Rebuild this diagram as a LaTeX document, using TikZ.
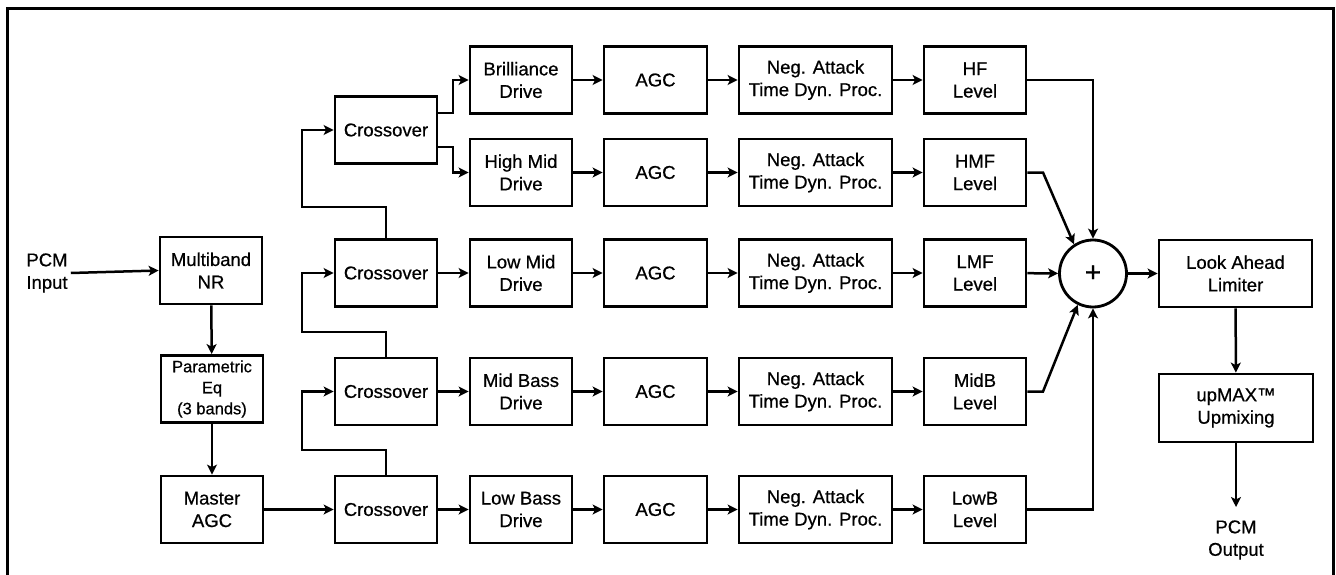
\documentclass[tikz,border=0pt]{standalone}
\usepackage{fontspec}
\setmainfont{Liberation Sans}[BoldFont=Liberation Sans,BoldFeatures={FakeBold=0.6}]
\usetikzlibrary{arrows.meta,calc}
\begin{document}
\begin{tikzpicture}[x=1pt,y=-1pt,
  box/.style={draw,line width=2.8pt,inner sep=0pt,align=center,
    font=\fontsize{18.5}{22.5}\selectfont\bfseries},
  sbox/.style={box,minimum width=102pt,minimum height=67pt},
  wbox/.style={box,minimum width=153pt,minimum height=67pt},
  lbl/.style={align=center,inner sep=3pt,font=\fontsize{18.5}{22.5}\selectfont\bfseries},
  arr/.style={line width=2.5pt,-{Stealth[length=10pt,width=10pt,inset=2.5pt]}},
  ln/.style={line width=2.5pt}]
\useasboundingbox (0,0) rectangle (1336,575);
% frame
\draw[line width=3pt] (7.5,580) -- (7.5,8.5) -- (1333.5,8.5) -- (1333.5,580);
% input chain
\node[lbl] (pin) at (47,273) {PCM\\Input};
\node[sbox] (nr) at (211,270.5) {Multiband\\NR};
\node[sbox,font=\fontsize{16.5}{21}\selectfont\bfseries] (peq) at (212,389) {Parametric\\Eq\\(3 bands)};
\node[sbox] (mag) at (212,509.5) {Master\\AGC};
% crossovers
\node[sbox] (c1) at (386,130) {Crossover};
\node[sbox] (c2) at (386,273) {Crossover};
\node[sbox] (c3) at (386,391.5) {Crossover};
\node[sbox] (c4) at (386,509.5) {Crossover};
% bands
\foreach \i/\y/\dr/\lv in {1/80/Brilliance/HF,2/172.5/High Mid/HMF,3/273/Low Mid/LMF,4/391.5/Mid Bass/MidB,5/509.5/Low Bass/LowB}{
  \node[sbox] (drv\i) at (521,\y) {\dr\\Drive};
  \node[sbox,minimum width=103pt] (agc\i) at (655.5,\y) {AGC};
  \node[wbox] (nat\i) at (815.5,\y) {Neg. Attack\\Time Dyn. Proc.};
  \node[sbox] (lvl\i) at (975,\y) {\lv\\Level};
  \draw[arr] (drv\i) -- (agc\i);
  \draw[arr] (agc\i) -- (nat\i);
  \draw[arr] (nat\i) -- (lvl\i);
}
\node[draw,circle,line width=2.8pt,minimum size=67pt,inner sep=0pt,
  font=\fontsize{28}{28}\selectfont\bfseries] (sum) at (1093,273.5) {+};
\node[wbox] (la) at (1235.5,273.5) {Look Ahead\\Limiter};
\node[wbox,minimum width=154pt,minimum height=68pt] (up) at (1236,408) {upMAX™\\Upmixing};
\node[lbl] (pout) at (1236,540) {PCM\\Output};
\coordinate (oend) at (1236,507);
% connectors
\draw[arr] (pin.east) -- (nr.west);
\draw[arr] (nr) -- (peq);
\draw[arr] (peq) -- (mag);
\draw[arr] (mag) -- (c4);
\draw[arr] (c2.north) |- (302,207) |- (c1.west);
\draw[arr] (c3.north) |- (302,332) |- (c2.west);
\draw[arr] (c4.north) |- (302,450) |- (c3.west);
\draw[arr] ([yshift=17pt]c1.east) -- (453,113) |- (drv1.west);
\draw[arr] ([yshift=-17pt]c1.east) -- (453,147) |- (drv2.west);
\draw[arr] (c2) -- (drv3);
\draw[arr] (c3) -- (drv4);
\draw[arr] (c4) -- (drv5);
\draw[arr] (lvl1.east) -| (sum.north);
\draw[arr] (lvl2.east) -- (1043,172.5) -- (sum.123);
\draw[arr] (lvl3) -- (sum);
\draw[arr] (lvl4.east) -- (1043,391.5) -- (sum.-116);
\draw[arr] (lvl5.east) -| (sum.south);
\draw[arr] (sum) -- (la);
\draw[arr] (la) -- (up);
\draw[arr] (up.south) -- (oend);
\end{tikzpicture}
\end{document}
